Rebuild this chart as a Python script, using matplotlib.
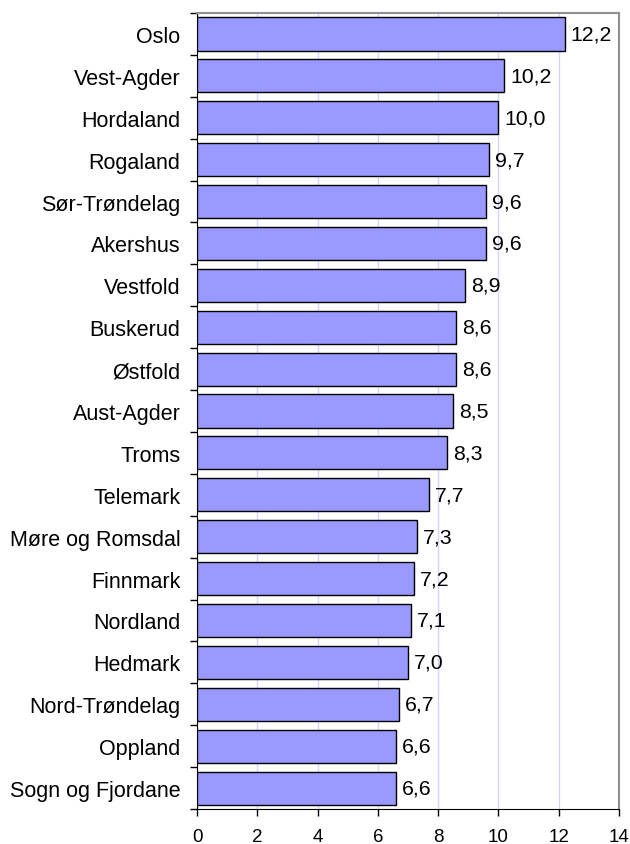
import matplotlib.pyplot as plt
import numpy as np

plt.rcParams['font.family'] = ['Liberation Sans', 'DejaVu Sans']

# Fylker og verdier (ovenfra og ned)
fylker = ["Oslo", "Vest-Agder", "Hordaland", "Rogaland", "Sør-Trøndelag",
          "Akershus", "Vestfold", "Buskerud", "Østfold", "Aust-Agder",
          "Troms", "Telemark", "Møre og Romsdal", "Finnmark", "Nordland",
          "Hedmark", "Nord-Trøndelag", "Oppland", "Sogn og Fjordane"]
verdier = [12.2, 10.2, 10.0, 9.7, 9.6, 9.6, 8.9, 8.6, 8.6, 8.5,
           8.3, 7.7, 7.3, 7.2, 7.1, 7.0, 6.7, 6.6, 6.6]
x_ticks = [0, 2, 4, 6, 8, 10, 12, 14]

fig = plt.figure(figsize=(6.3, 8.45), dpi=100)
ax = fig.add_axes([0.3127, 0.0414, 0.6698, 0.942])

n = len(fylker)
y = np.arange(n)[::-1]
ax.barh(y, verdier, height=0.79, color='#9999ff', edgecolor='black',
        linewidth=1.0, zorder=3)

for yi, v in zip(y, verdier):
    ax.text(v + 0.2, yi, f"{v:.1f}".replace('.', ','), va='center',
            ha='left', fontsize=15.3, zorder=4)

ax.set_xlim(0, 14)
ax.set_ylim(-0.5, n - 0.5)
ax.set_xticks(x_ticks)
ax.set_xticklabels([str(t) for t in x_ticks], fontsize=13.5)
ax.tick_params(axis='x', length=5, width=1, pad=9, direction='out')

# y-ticks mellom stolpene, navn midt på
ax.set_yticks(np.arange(-0.5, n, 1.0))
ax.set_yticklabels([])
ax.tick_params(axis='y', which='major', length=5, width=1, direction='out')
ax.set_yticks(y, minor=True)
ax.set_yticklabels(fylker, minor=True, fontsize=15.5)
ax.tick_params(axis='y', which='minor', length=0, pad=12)

ax.xaxis.grid(True, color='#d4d4ff', linewidth=1, zorder=0)
ax.set_axisbelow(True)

ax.spines['top'].set_color('#909090')
ax.spines['right'].set_color('#909090')
ax.spines['top'].set_linewidth(1.5)
ax.spines['right'].set_linewidth(1.5)

fig.savefig('out.png', dpi=100)
